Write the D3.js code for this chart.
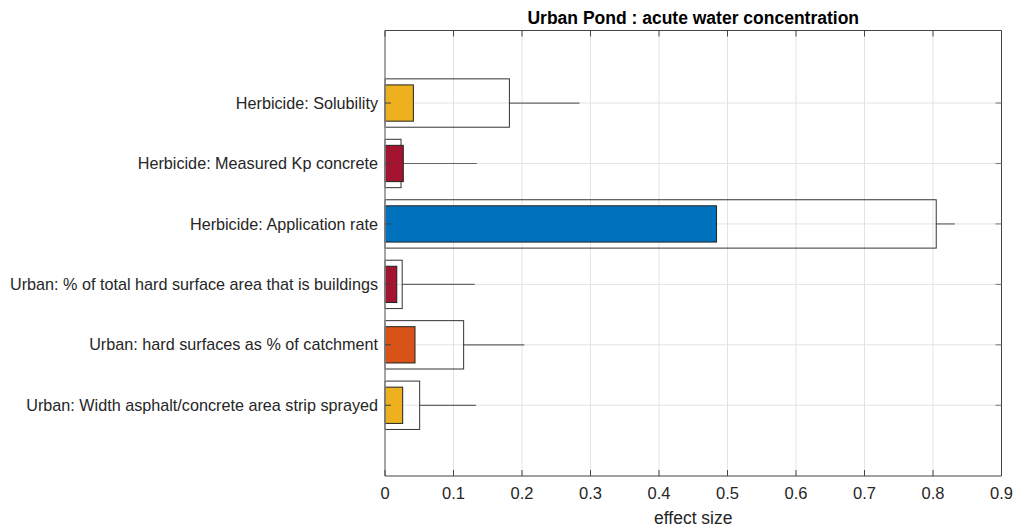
<!DOCTYPE html>
<html>
<head>
<meta charset="utf-8">
<script src="https://cdn.jsdelivr.net/npm/d3@7"></script>
<style>
  body { margin: 0; background: #fff; }
  text { font-family: "Liberation Sans", Arial, sans-serif; }
</style>
</head>
<body>
<div id="chart"></div>
<script>
// categories top to bottom
var categories = [
  "Herbicide: Solubility",
  "Herbicide: Measured Kp concrete",
  "Herbicide: Application rate",
  "Urban: % of total hard surface area that is buildings",
  "Urban: hard surfaces as % of catchment",
  "Urban: Width asphalt/concrete area strip sprayed"
];
var innerVals = [0.0414, 0.0267, 0.484, 0.0172, 0.0438, 0.0258];
var outerVals = [0.1816, 0.0234, 0.8047, 0.0251, 0.1148, 0.0506];
var whiskerEnds = [0.284, 0.134, 0.832, 0.131, 0.2033, 0.1328];
var barColors = ["#EDB120", "#A2142F", "#0072BD", "#A2142F", "#D95319", "#EDB120"];
var xTicks = [0, 0.1, 0.2, 0.3, 0.4, 0.5, 0.6, 0.7, 0.8, 0.9];

var W = 1017, H = 530;
var top0 = 30.5, bottom0 = 476;

var svg = d3.select("#chart").append("svg")
    .attr("width", W).attr("height", H);

var x = d3.scaleLinear().domain([0, 0.9]).range([385, 1001.5]);
var y = d3.scaleLinear().domain([-1.2, 6.17]).range([top0, bottom0]);
var step = y(1) - y(0);

// grid
svg.append("g").selectAll("line")
  .data(xTicks.slice(1, -1)).enter().append("line")
  .attr("x1", d => x(d)).attr("x2", d => x(d))
  .attr("y1", top0).attr("y2", bottom0)
  .attr("stroke", "#e3e3e3").attr("stroke-width", 1);
svg.append("g").selectAll("line")
  .data(categories).enter().append("line")
  .attr("x1", x(0)).attr("x2", x(0.9))
  .attr("y1", (d, i) => y(i)).attr("y2", (d, i) => y(i))
  .attr("stroke", "#e3e3e3").attr("stroke-width", 1);

// whiskers
svg.append("g").selectAll("line")
  .data(categories).enter().append("line")
  .attr("x1", (d, i) => x(outerVals[i])).attr("x2", (d, i) => x(whiskerEnds[i]))
  .attr("y1", (d, i) => y(i)).attr("y2", (d, i) => y(i))
  .attr("stroke", "#666").attr("stroke-width", 1.2);

// outer (unfilled) bars
svg.append("g").selectAll("rect")
  .data(categories).enter().append("rect")
  .attr("x", x(0))
  .attr("y", (d, i) => y(i) - step * 0.4)
  .attr("width", (d, i) => x(outerVals[i]) - x(0))
  .attr("height", step * 0.8)
  .attr("fill", "none")
  .attr("stroke", "#333").attr("stroke-width", 1);

// inner coloured bars
svg.append("g").selectAll("rect")
  .data(categories).enter().append("rect")
  .attr("x", x(0))
  .attr("y", (d, i) => y(i) - step * 0.3)
  .attr("width", (d, i) => x(innerVals[i]) - x(0))
  .attr("height", step * 0.6)
  .attr("fill", (d, i) => barColors[i])
  .attr("stroke", "#222").attr("stroke-width", 1);

// axes box
var bx0 = x(0), bx1 = x(0.9);
svg.append("line").attr("x1", bx0).attr("x2", bx1).attr("y1", top0).attr("y2", top0)
  .attr("stroke", "#444");
svg.append("line").attr("x1", bx0).attr("x2", bx1).attr("y1", bottom0).attr("y2", bottom0)
  .attr("stroke", "#444");
svg.append("line").attr("x1", bx1).attr("x2", bx1).attr("y1", top0).attr("y2", bottom0)
  .attr("stroke", "#444");
svg.append("line").attr("x1", bx0).attr("x2", bx0).attr("y1", top0).attr("y2", bottom0)
  .attr("stroke", "#888").attr("stroke-width", 1.5);

// x ticks (bottom and top)
var xt = svg.append("g");
xTicks.forEach(function(t) {
  xt.append("line").attr("x1", x(t)).attr("x2", x(t)).attr("y1", bottom0).attr("y2", bottom0 - 6)
    .attr("stroke", "#444");
  xt.append("line").attr("x1", x(t)).attr("x2", x(t)).attr("y1", top0).attr("y2", top0 + 6)
    .attr("stroke", "#444");
  xt.append("text").attr("x", x(t)).attr("y", 499)
    .attr("text-anchor", "middle").attr("font-size", 16.5).attr("fill", "#262626")
    .text(t === 0 ? "0" : d3.format(".1f")(t));
});

// y ticks (left and right) and labels
var yt = svg.append("g");
categories.forEach(function(c, i) {
  yt.append("line").attr("x1", bx0).attr("x2", bx0 + 6).attr("y1", y(i)).attr("y2", y(i))
    .attr("stroke", "#444");
  yt.append("line").attr("x1", bx1).attr("x2", bx1 - 6).attr("y1", y(i)).attr("y2", y(i))
    .attr("stroke", "#777");
  yt.append("text").attr("x", bx0 - 7).attr("y", y(i)).attr("dy", "0.35em")
    .attr("text-anchor", "end").attr("font-size", 16.2).attr("fill", "#262626")
    .text(c);
});

// title and x label
svg.append("text").attr("x", (bx0 + bx1) / 2).attr("y", 24)
  .attr("text-anchor", "middle").attr("font-size", 17.5).attr("font-weight", "bold")
  .attr("fill", "#000").text("Urban Pond : acute water concentration");
svg.append("text").attr("x", (bx0 + bx1) / 2).attr("y", 524)
  .attr("text-anchor", "middle").attr("font-size", 17.5).attr("fill", "#262626")
  .text("effect size");
</script>
</body>
</html>
